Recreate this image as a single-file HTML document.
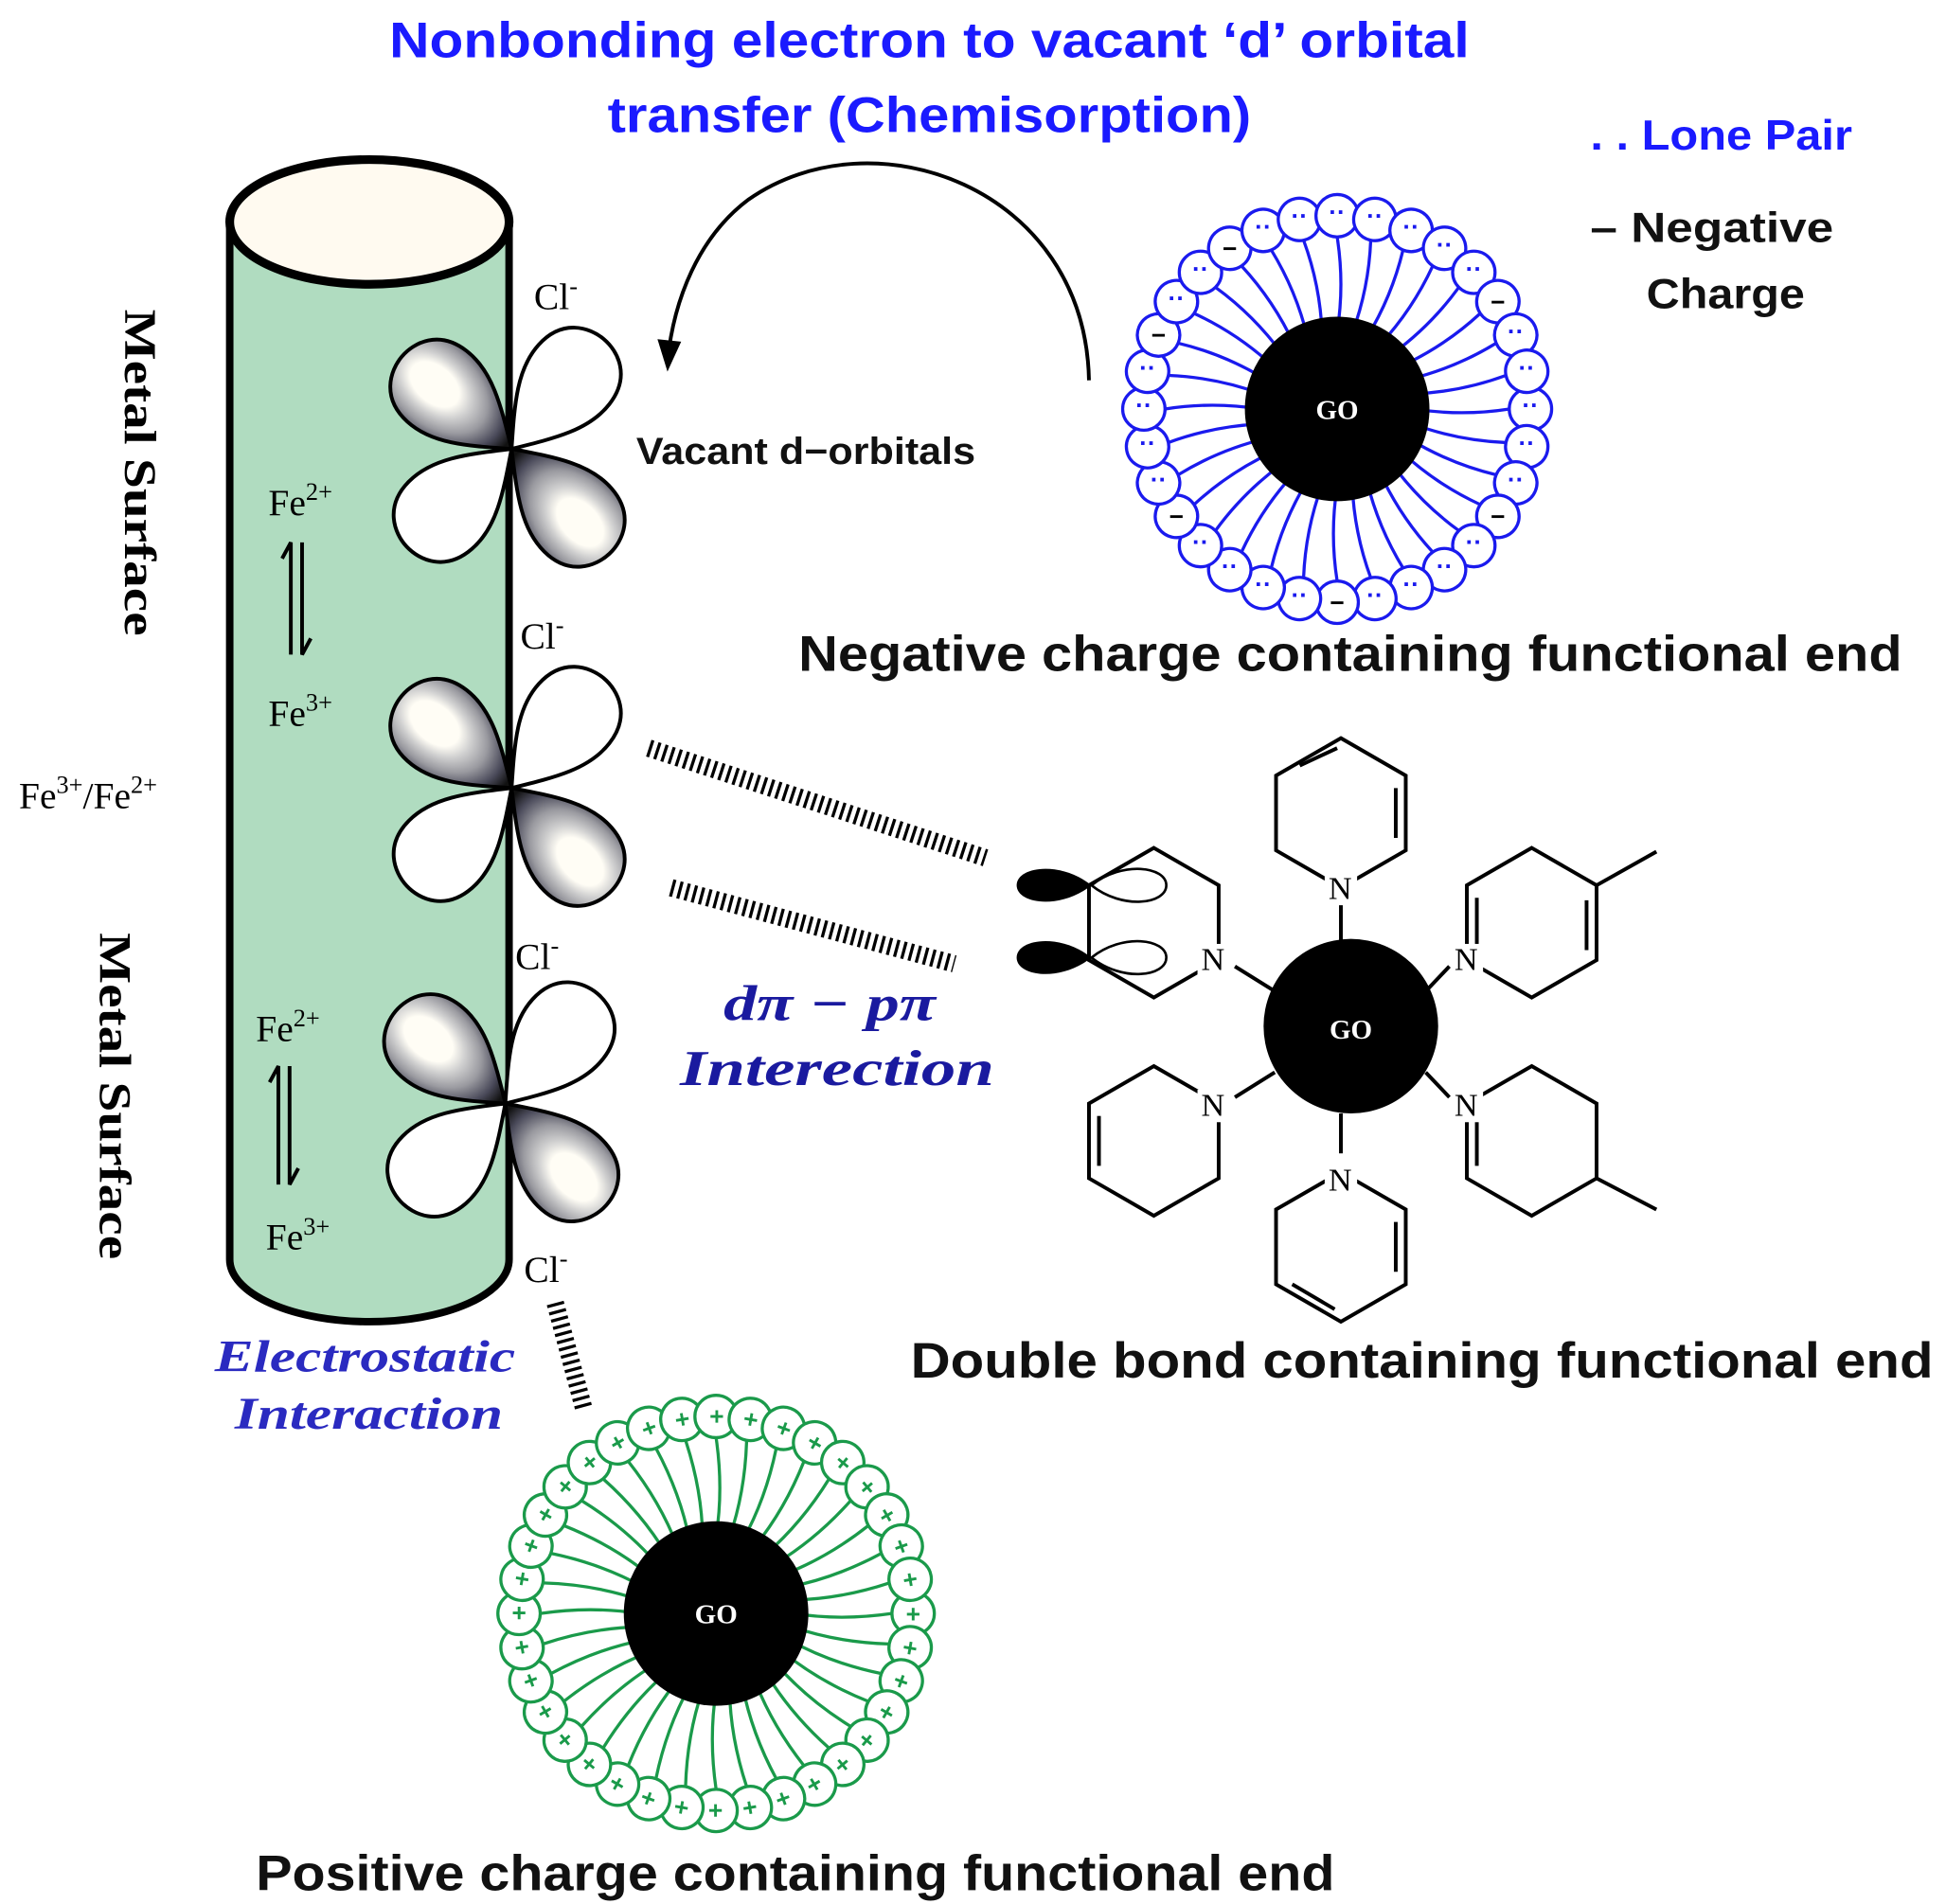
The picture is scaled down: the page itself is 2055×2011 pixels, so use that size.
<!DOCTYPE html>
<html><head><meta charset="utf-8">
<style>
html,body{margin:0;padding:0;background:#fff;}
svg{display:block;}
.t{font-family:"Liberation Sans",sans-serif;font-weight:bold;}
.s{font-family:"Liberation Serif",serif;}
</style></head>
<body>
<svg width="2055" height="2011" viewBox="0 0 1560 1527" xmlns="http://www.w3.org/2000/svg" xmlns:xlink="http://www.w3.org/1999/xlink">
<defs>
<radialGradient id="dk" cx="0.7" cy="0.5" r="0.65">
<stop offset="0" stop-color="#fffdf5"/><stop offset="0.3" stop-color="#fffdf5"/>
<stop offset="0.45" stop-color="#d0d0d0"/><stop offset="0.65" stop-color="#9a9aa0"/>
<stop offset="0.85" stop-color="#4a4a5a"/><stop offset="1" stop-color="#111"/>
</radialGradient>
<path id="lobe" d="M0,0 C30,-22 52,-38 78,-37 C106,-36 115,-15 115,0 C115,15 106,36 78,37 C52,38 30,22 0,0 Z"/>
<g id="bu" fill="#fff" stroke="#1a1aee" stroke-width="2.5"><path d="M62,0 Q100,6 138,0" fill="none"/><circle cx="155" cy="0" r="17"/></g>
<g id="gu" fill="#fff" stroke="#1a9a4a" stroke-width="2.5"><path d="M62,0 Q100,6 141,0" fill="none"/><circle cx="158" cy="0" r="17"/></g>
<polygon id="hx" points="0,-60 52,-30 52,30 0,60 -52,30 -52,-30" fill="none" stroke="#000" stroke-width="3"/>
</defs>
<text class="t" x="312" y="46" font-size="40" fill="#1a1aff" textLength="866" lengthAdjust="spacingAndGlyphs">Nonbonding electron to vacant ‘d’ orbital</text>
<text class="t" x="487" y="106" font-size="40" fill="#1a1aff" textLength="516" lengthAdjust="spacingAndGlyphs">transfer (Chemisorption)</text>
<text class="t" x="1275" y="120" font-size="34" fill="#1a1aff" textLength="210" lengthAdjust="spacingAndGlyphs">. . Lone Pair</text>
<text class="t" x="1275" y="194" font-size="34" fill="#111" textLength="195" lengthAdjust="spacingAndGlyphs">– Negative</text>
<text class="t" x="1320" y="247" font-size="34" fill="#111" textLength="127" lengthAdjust="spacingAndGlyphs">Charge</text>
<path d="M184,178 L184,1010 A112,50 0 0 0 408,1010 L408,178 Z" fill="#b0dcc0" stroke="#000" stroke-width="6"/>
<ellipse cx="296" cy="178" rx="112" ry="50" fill="#fffaf0" stroke="#000" stroke-width="7"/>
<text class="s" font-size="36" font-weight="bold" transform="translate(100,248) rotate(90)" textLength="262" lengthAdjust="spacingAndGlyphs">Metal Surface</text>
<text class="s" font-size="36" font-weight="bold" transform="translate(80,748) rotate(90)" textLength="262" lengthAdjust="spacingAndGlyphs">Metal Surface</text>
<g class="s" font-size="30">
<text x="215" y="413">Fe<tspan font-size="20" dy="-12">2+</tspan></text>
<text x="215" y="582">Fe<tspan font-size="20" dy="-12">3+</tspan></text>
<text x="15" y="648">Fe<tspan font-size="20" dy="-12">3+</tspan><tspan dy="12">/Fe</tspan><tspan font-size="20" dy="-12">2+</tspan></text>
<text x="205" y="835">Fe<tspan font-size="20" dy="-12">2+</tspan></text>
<text x="213" y="1002">Fe<tspan font-size="20" dy="-12">3+</tspan></text>
<text x="428" y="248">Cl<tspan font-size="20" dy="-12">-</tspan></text>
<text x="417" y="520">Cl<tspan font-size="20" dy="-12">-</tspan></text>
<text x="413" y="777">Cl<tspan font-size="20" dy="-12">-</tspan></text>
<text x="420" y="1028">Cl<tspan font-size="20" dy="-12">-</tspan></text>
</g>
<g stroke="#000" stroke-width="3" fill="none">
<path d="M233,525 L233,435 L226,448"/><path d="M242,435 L242,525 L249,512"/>
<path d="M223,950 L223,855 L216,868"/><path d="M232,855 L232,950 L239,937"/>
</g>
<g stroke="#000" stroke-width="3">
<g transform="translate(410,360)">
<use href="#lobe" transform="rotate(-50)" fill="#fff"/><use href="#lobe" transform="rotate(137)" fill="#fff"/>
<use href="#lobe" transform="rotate(-140)" fill="url(#dk)"/><use href="#lobe" transform="rotate(47)" fill="url(#dk)"/></g>
<g transform="translate(410,632)">
<use href="#lobe" transform="rotate(-50)" fill="#fff"/><use href="#lobe" transform="rotate(137)" fill="#fff"/>
<use href="#lobe" transform="rotate(-140)" fill="url(#dk)"/><use href="#lobe" transform="rotate(47)" fill="url(#dk)"/></g>
<g transform="translate(405,885)">
<use href="#lobe" transform="rotate(-50)" fill="#fff"/><use href="#lobe" transform="rotate(137)" fill="#fff"/>
<use href="#lobe" transform="rotate(-140)" fill="url(#dk)"/><use href="#lobe" transform="rotate(47)" fill="url(#dk)"/></g>
</g>
<text class="t" x="510" y="372" font-size="30" fill="#111" textLength="272" lengthAdjust="spacingAndGlyphs">Vacant d−orbitals</text>
<path d="M873,305 C870,150 700,90 600,160 C560,190 540,240 535,290" fill="none" stroke="#000" stroke-width="3"/>
<path d="M527,272 L535,298 L546,274 Z" fill="#000"/>
<g stroke="#000" stroke-width="14" stroke-dasharray="2.5,3.5" fill="none">
<line x1="520" y1="600" x2="790" y2="688"/>
<line x1="538" y1="712" x2="765" y2="773"/>
<line x1="445" y1="1045" x2="468" y2="1130"/>
</g>
<text x="580" y="818" font-size="40" font-style="italic" font-weight="bold" fill="#1a1a9f" font-family="Liberation Serif,serif" textLength="170" lengthAdjust="spacingAndGlyphs">dπ − pπ</text>
<text x="545" y="870" font-size="40" font-style="italic" font-weight="bold" fill="#1a1a9f" font-family="Liberation Serif,serif" textLength="252" lengthAdjust="spacingAndGlyphs">Interection</text>
<text x="172" y="1100" font-size="36" font-style="italic" font-weight="bold" fill="#2a2ac0" font-family="Liberation Serif,serif" textLength="241" lengthAdjust="spacingAndGlyphs">Electrostatic</text>
<text x="188" y="1146" font-size="36" font-style="italic" font-weight="bold" fill="#2a2ac0" font-family="Liberation Serif,serif" textLength="215" lengthAdjust="spacingAndGlyphs">Interaction</text>

<g transform="translate(1072,328)" font-family="Liberation Sans,sans-serif" font-weight="bold" font-size="20" text-anchor="middle" fill="#1a1aee">
<g transform="rotate(0)"><use href="#bu"/><text transform="translate(155,0) rotate(0)" y="4">··</text></g>
<g transform="rotate(11.25)"><use href="#bu"/><text transform="translate(155,0) rotate(-11.25)" y="4">··</text></g>
<g transform="rotate(22.5)"><use href="#bu"/><text transform="translate(155,0) rotate(-22.5)" y="4">··</text></g>
<g transform="rotate(33.75)"><use href="#bu"/><text transform="translate(155,0) rotate(-33.75)" y="7" fill="#000">−</text></g>
<g transform="rotate(45)"><use href="#bu"/><text transform="translate(155,0) rotate(-45)" y="4">··</text></g>
<g transform="rotate(56.25)"><use href="#bu"/><text transform="translate(155,0) rotate(-56.25)" y="4">··</text></g>
<g transform="rotate(67.5)"><use href="#bu"/><text transform="translate(155,0) rotate(-67.5)" y="4">··</text></g>
<g transform="rotate(78.75)"><use href="#bu"/><text transform="translate(155,0) rotate(-78.75)" y="4">··</text></g>
<g transform="rotate(90)"><use href="#bu"/><text transform="translate(155,0) rotate(-90)" y="7" fill="#000">−</text></g>
<g transform="rotate(101.25)"><use href="#bu"/><text transform="translate(155,0) rotate(-101.25)" y="4">··</text></g>
<g transform="rotate(112.5)"><use href="#bu"/><text transform="translate(155,0) rotate(-112.5)" y="4">··</text></g>
<g transform="rotate(123.75)"><use href="#bu"/><text transform="translate(155,0) rotate(-123.75)" y="4">··</text></g>
<g transform="rotate(135)"><use href="#bu"/><text transform="translate(155,0) rotate(-135)" y="4">··</text></g>
<g transform="rotate(146.25)"><use href="#bu"/><text transform="translate(155,0) rotate(-146.25)" y="7" fill="#000">−</text></g>
<g transform="rotate(157.5)"><use href="#bu"/><text transform="translate(155,0) rotate(-157.5)" y="4">··</text></g>
<g transform="rotate(168.75)"><use href="#bu"/><text transform="translate(155,0) rotate(-168.75)" y="4">··</text></g>
<g transform="rotate(180)"><use href="#bu"/><text transform="translate(155,0) rotate(-180)" y="4">··</text></g>
<g transform="rotate(191.25)"><use href="#bu"/><text transform="translate(155,0) rotate(-191.25)" y="4">··</text></g>
<g transform="rotate(202.5)"><use href="#bu"/><text transform="translate(155,0) rotate(-202.5)" y="7" fill="#000">−</text></g>
<g transform="rotate(213.75)"><use href="#bu"/><text transform="translate(155,0) rotate(-213.75)" y="4">··</text></g>
<g transform="rotate(225)"><use href="#bu"/><text transform="translate(155,0) rotate(-225)" y="4">··</text></g>
<g transform="rotate(236.25)"><use href="#bu"/><text transform="translate(155,0) rotate(-236.25)" y="7" fill="#000">−</text></g>
<g transform="rotate(247.5)"><use href="#bu"/><text transform="translate(155,0) rotate(-247.5)" y="4">··</text></g>
<g transform="rotate(258.75)"><use href="#bu"/><text transform="translate(155,0) rotate(-258.75)" y="4">··</text></g>
<g transform="rotate(270)"><use href="#bu"/><text transform="translate(155,0) rotate(-270)" y="4">··</text></g>
<g transform="rotate(281.25)"><use href="#bu"/><text transform="translate(155,0) rotate(-281.25)" y="4">··</text></g>
<g transform="rotate(292.5)"><use href="#bu"/><text transform="translate(155,0) rotate(-292.5)" y="4">··</text></g>
<g transform="rotate(303.75)"><use href="#bu"/><text transform="translate(155,0) rotate(-303.75)" y="4">··</text></g>
<g transform="rotate(315)"><use href="#bu"/><text transform="translate(155,0) rotate(-315)" y="4">··</text></g>
<g transform="rotate(326.25)"><use href="#bu"/><text transform="translate(155,0) rotate(-326.25)" y="7" fill="#000">−</text></g>
<g transform="rotate(337.5)"><use href="#bu"/><text transform="translate(155,0) rotate(-337.5)" y="4">··</text></g>
<g transform="rotate(348.75)"><use href="#bu"/><text transform="translate(155,0) rotate(-348.75)" y="4">··</text></g>
<circle r="74" fill="#000"/>
<text y="8" font-size="22" fill="#fff" font-family="Liberation Serif,serif">GO</text>
</g>

<g transform="translate(574,1294)" font-family="Liberation Sans,sans-serif" font-weight="bold" font-size="20" text-anchor="middle" fill="#1a9a4a">
<g transform="rotate(0)"><use href="#gu"/><text x="158" y="7">+</text></g>
<g transform="rotate(10)"><use href="#gu"/><text x="158" y="7">+</text></g>
<g transform="rotate(20)"><use href="#gu"/><text x="158" y="7">+</text></g>
<g transform="rotate(30)"><use href="#gu"/><text x="158" y="7">+</text></g>
<g transform="rotate(40)"><use href="#gu"/><text x="158" y="7">+</text></g>
<g transform="rotate(50)"><use href="#gu"/><text x="158" y="7">+</text></g>
<g transform="rotate(60)"><use href="#gu"/><text x="158" y="7">+</text></g>
<g transform="rotate(70)"><use href="#gu"/><text x="158" y="7">+</text></g>
<g transform="rotate(80)"><use href="#gu"/><text x="158" y="7">+</text></g>
<g transform="rotate(90)"><use href="#gu"/><text x="158" y="7">+</text></g>
<g transform="rotate(100)"><use href="#gu"/><text x="158" y="7">+</text></g>
<g transform="rotate(110)"><use href="#gu"/><text x="158" y="7">+</text></g>
<g transform="rotate(120)"><use href="#gu"/><text x="158" y="7">+</text></g>
<g transform="rotate(130)"><use href="#gu"/><text x="158" y="7">+</text></g>
<g transform="rotate(140)"><use href="#gu"/><text x="158" y="7">+</text></g>
<g transform="rotate(150)"><use href="#gu"/><text x="158" y="7">+</text></g>
<g transform="rotate(160)"><use href="#gu"/><text x="158" y="7">+</text></g>
<g transform="rotate(170)"><use href="#gu"/><text x="158" y="7">+</text></g>
<g transform="rotate(180)"><use href="#gu"/><text x="158" y="7">+</text></g>
<g transform="rotate(190)"><use href="#gu"/><text x="158" y="7">+</text></g>
<g transform="rotate(200)"><use href="#gu"/><text x="158" y="7">+</text></g>
<g transform="rotate(210)"><use href="#gu"/><text x="158" y="7">+</text></g>
<g transform="rotate(220)"><use href="#gu"/><text x="158" y="7">+</text></g>
<g transform="rotate(230)"><use href="#gu"/><text x="158" y="7">+</text></g>
<g transform="rotate(240)"><use href="#gu"/><text x="158" y="7">+</text></g>
<g transform="rotate(250)"><use href="#gu"/><text x="158" y="7">+</text></g>
<g transform="rotate(260)"><use href="#gu"/><text x="158" y="7">+</text></g>
<g transform="rotate(270)"><use href="#gu"/><text x="158" y="7">+</text></g>
<g transform="rotate(280)"><use href="#gu"/><text x="158" y="7">+</text></g>
<g transform="rotate(290)"><use href="#gu"/><text x="158" y="7">+</text></g>
<g transform="rotate(300)"><use href="#gu"/><text x="158" y="7">+</text></g>
<g transform="rotate(310)"><use href="#gu"/><text x="158" y="7">+</text></g>
<g transform="rotate(320)"><use href="#gu"/><text x="158" y="7">+</text></g>
<g transform="rotate(330)"><use href="#gu"/><text x="158" y="7">+</text></g>
<g transform="rotate(340)"><use href="#gu"/><text x="158" y="7">+</text></g>
<g transform="rotate(350)"><use href="#gu"/><text x="158" y="7">+</text></g>
<circle r="74" fill="#000"/>
<text y="8" font-size="22" fill="#fff" font-family="Liberation Serif,serif">GO</text>
</g>

<use href="#hx" x="1075" y="652"/>
<use href="#hx" x="925" y="740"/>
<use href="#hx" x="1228" y="740"/>
<use href="#hx" x="925" y="915"/>
<use href="#hx" x="1228" y="915"/>
<use href="#hx" x="1075" y="1000"/>
<g stroke="#000" stroke-width="3" fill="none">
<line x1="1075" y1="725" x2="1075" y2="755"/><line x1="990" y1="775" x2="1022" y2="795"/>
<line x1="1162" y1="775" x2="1143" y2="795"/><line x1="990" y1="880" x2="1022" y2="860"/>
<line x1="1162" y1="880" x2="1143" y2="860"/><line x1="1075" y1="925" x2="1075" y2="893"/>
<line x1="1280" y1="710" x2="1328" y2="683"/><line x1="1280" y1="945" x2="1328" y2="970"/>
<line x1="1119" y1="632" x2="1119" y2="672"/><line x1="1042" y1="614" x2="1072" y2="600"/>
<line x1="1184" y1="720" x2="1184" y2="760"/><line x1="1272" y1="722" x2="1272" y2="762"/>
<line x1="881" y1="895" x2="881" y2="935"/><line x1="1184" y1="895" x2="1184" y2="935"/>
<line x1="1119" y1="980" x2="1119" y2="1020"/><line x1="1036" y1="1030" x2="1070" y2="1050"/>
</g>
<circle cx="1083" cy="823" r="70" fill="#000"/>
<text class="s" x="1083" y="833" font-size="22" font-weight="bold" fill="#fff" text-anchor="middle">GO</text>
<g class="s" font-size="26" fill="#000">
<rect x="1062" y="700" width="26" height="26" fill="#fff"/><text x="1065" y="721">N</text>
<rect x="960" y="757" width="26" height="26" fill="#fff"/><text x="963" y="778">N</text>
<rect x="1163" y="757" width="26" height="26" fill="#fff"/><text x="1166" y="778">N</text>
<rect x="960" y="874" width="26" height="26" fill="#fff"/><text x="963" y="895">N</text>
<rect x="1163" y="874" width="26" height="26" fill="#fff"/><text x="1166" y="895">N</text>
<rect x="1062" y="934" width="26" height="26" fill="#fff"/><text x="1065" y="955">N</text>
</g>
<path d="M875,710 C850,690 815,695 815,710 C815,725 850,730 875,710Z" fill="#000"/>
<path d="M875,710 C900,690 935,695 935,710 C935,725 900,730 875,710Z" fill="#fff" stroke="#000" stroke-width="2"/>
<path d="M875,768 C850,748 815,753 815,768 C815,783 850,788 875,768Z" fill="#000"/>
<path d="M875,768 C900,748 935,753 935,768 C935,783 900,788 875,768Z" fill="#fff" stroke="#000" stroke-width="2"/>
<text class="t" x="640" y="538" font-size="40" fill="#111" textLength="885" lengthAdjust="spacingAndGlyphs">Negative charge containing functional end</text>
<text class="t" x="730" y="1105" font-size="40" fill="#111" textLength="820" lengthAdjust="spacingAndGlyphs">Double bond containing functional end</text>
<text class="t" x="205" y="1516" font-size="40" fill="#111" textLength="865" lengthAdjust="spacingAndGlyphs">Positive charge containing functional end</text>
</svg>
</body></html>
